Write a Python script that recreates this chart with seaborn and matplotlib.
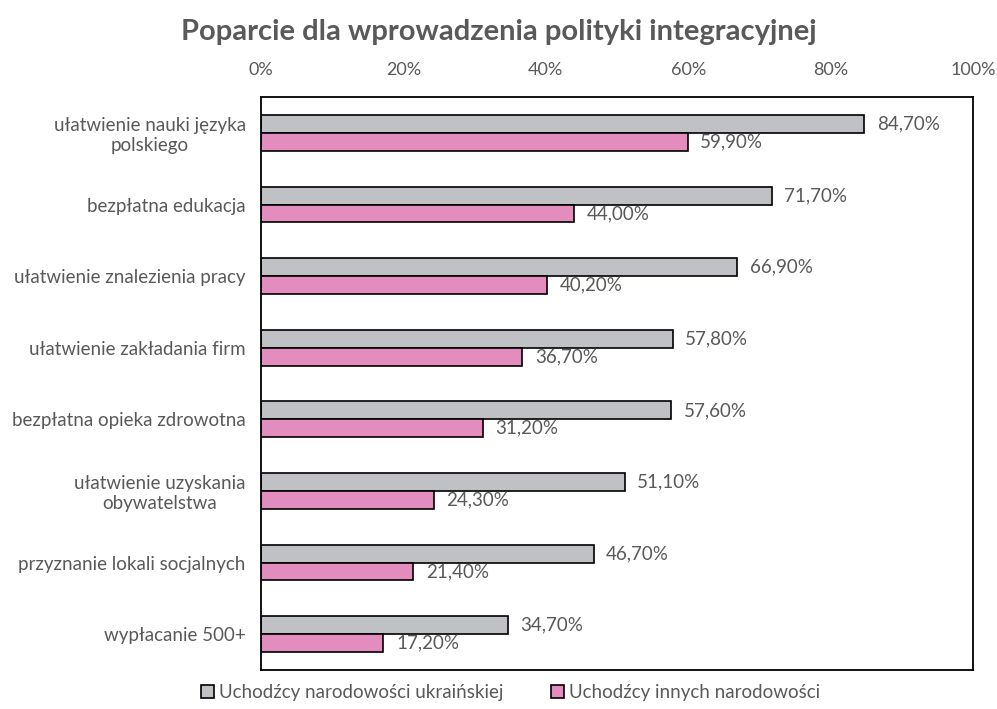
import pandas as pd
import seaborn as sns
import matplotlib.pyplot as plt
from matplotlib.ticker import PercentFormatter

categories = [
    "ułatwienie nauki języka\npolskiego",
    "bezpłatna edukacja",
    "ułatwienie znalezienia pracy",
    "ułatwienie zakładania firm",
    "bezpłatna opieka zdrowotna",
    "ułatwienie uzyskania\nobywatelstwa",
    "przyznanie lokali socjalnych",
    "wypłacanie 500+",
]
ukr = [84.7, 71.7, 66.9, 57.8, 57.6, 51.1, 46.7, 34.7]
other = [59.9, 44.0, 40.2, 36.7, 31.2, 24.3, 21.4, 17.2]
series = ["Uchodźcy narodowości ukraińskiej", "Uchodźcy innych narodowości"]

df = pd.DataFrame({
    "Kategoria": categories * 2,
    "Wartość": ukr + other,
    "Grupa": [series[0]] * len(categories) + [series[1]] * len(categories),
})

sns.set_style("white")
plt.rcParams['font.family'] = ['Lato', 'DejaVu Sans']
text_col = "#595959"

fig = plt.figure(figsize=(9.97, 7.09), dpi=100)
ax = fig.add_axes([0.2618, 0.055, 0.976 - 0.2618, 0.808])

sns.barplot(data=df, x="Wartość", y="Kategoria", hue="Grupa", orient="h",
            palette=["#C0C1C5", "#E38DBF"], saturation=1, width=0.5,
            edgecolor="black", linewidth=1.2, ax=ax)

# etykiety wartości z przecinkiem
for cont in ax.containers:
    labels = [f"{v:.2f}%".replace(".", ",") for v in cont.datavalues]
    ax.bar_label(cont, labels=labels, padding=9, fontsize=13.5, color=text_col)

ax.set_xlim(0, 100)
ax.xaxis.set_major_formatter(PercentFormatter(decimals=0))
ax.xaxis.tick_top()
ax.tick_params(axis="x", length=0, pad=14, labelsize=13, colors=text_col)
ax.tick_params(axis="y", length=0, pad=11, labelsize=13.5, colors=text_col)
for lab in ax.get_yticklabels():
    lab.set_multialignment("center")
ax.set_xlabel("")
ax.set_ylabel("")
for sp in ax.spines.values():
    sp.set_color("black")
    sp.set_linewidth(1.3)

handles, labs = ax.get_legend_handles_labels()
ax.get_legend().remove()
fig.legend(handles, labs, loc="center", bbox_to_anchor=(0.512, 0.0226), ncol=2,
           frameon=False, fontsize=13.5, labelcolor=text_col, handlelength=0.7,
           handleheight=0.7, handletextpad=0.3, columnspacing=2.5)

fig.suptitle("Poparcie dla wprowadzenia polityki integracyjnej", y=0.955, va="center",
             fontsize=21, fontweight="bold", color=text_col)

plt.savefig("out.png", dpi=100)
